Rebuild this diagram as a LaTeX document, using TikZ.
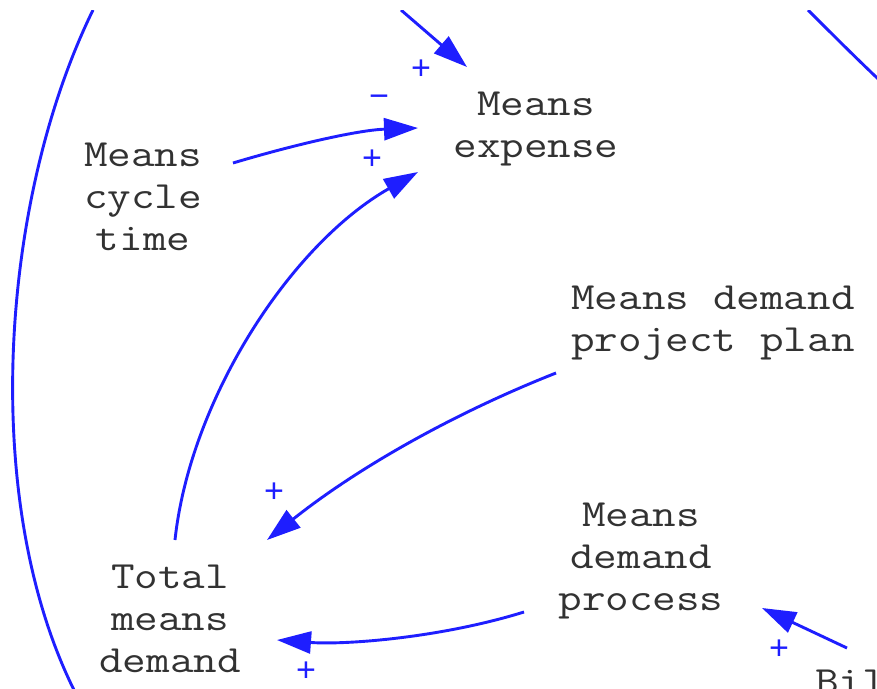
\documentclass[tikz,border=0pt]{standalone}
\usepackage{fontspec}
\newfontfamily\labelfont{Latin Modern Mono}[FakeStretch=1.19]
\newfontfamily\signfont{Liberation Mono}
\usetikzlibrary{arrows.meta}
\definecolor{linkblue}{RGB}{30,30,255}
\definecolor{vartext}{RGB}{50,50,50}
% one full character cell between words
\newcommand{\cell}{\hspace{24pt}}
\begin{document}
\begin{tikzpicture}[x=1pt,y=-1pt,
  var/.style={font=\labelfont\fontsize{38.5}{42}\selectfont, text=vartext,
              align=center, text width=320pt, anchor=base, inner sep=0pt},
  sign/.style={font=\signfont\fontsize{34}{34}\selectfont, text=linkblue, inner sep=0pt},
  link/.style={draw=linkblue, line width=2.9pt, -{Triangle[length=34pt,width=22pt]}},
  plainlink/.style={draw=linkblue, line width=2.9pt}]
\useasboundingbox[fill=white] (0,0) rectangle (877,688);

% variables
\node[var] (exp)  at (536,115) {Means\\expense};
\node[var] (cyc)  at (143,166) {Means\\cycle\\time};
\node[var] (plan) at (713,309) {Means\cell demand\\project\cell plan};
\node[var] (proc) at (641,526) {Means\\demand\\process};
\node[var] (tot)  at (170,588) {Total\\means\\demand};
\node[font=\labelfont\fontsize{38.5}{42}\selectfont, text=vartext, inner sep=0pt,
      anchor=base west] (bil) at (815,693) {Bil};

% connector end points
\coordinate (top-in)   at (401,10);
\coordinate (exp-n)    at (467,67);
\coordinate (cyc-e)    at (233,163);
\coordinate (exp-w)    at (418,128);
\coordinate (exp-sw)   at (418,172);
\coordinate (tot-n)    at (175,540);
\coordinate (plan-sw)  at (556,373);
\coordinate (tot-ne)   at (267,540);
\coordinate (proc-w)   at (524,612);
\coordinate (tot-e)    at (277,640);
\coordinate (bil-nw)   at (847,648);
\coordinate (proc-se)  at (762,608);

\begin{scope}
\clip (0,10) rectangle (877,700);
% long loops leaving the frame
\path[plainlink] (93,10) .. controls (0,200) and (-20,500) .. (74,690);
\path[plainlink] (808,10) .. controls (840,42) and (870,72) .. (905,104);
% causal links
\path[link] (top-in) -- (exp-n);
\path[link] (cyc-e) .. controls (300,143) and (360,130) .. (exp-w);
\path[link] (tot-n) .. controls (190,400) and (290,245) .. (exp-sw);
\path[link] (plan-sw) .. controls (452,414) and (356,469) .. (tot-ne);
\path[link] (proc-w) .. controls (440,638) and (345,645) .. (tot-e);
\path[link] (bil-nw) -- (proc-se);
\end{scope}

% polarities
\node[sign] (s1) at (421,70)  {+};
\node[sign] (s2) at (379,101) {−};
\node[sign] (s3) at (372,160) {+};
\node[sign] (s4) at (274,493) {+};
\node[sign] (s5) at (306,672) {+};
\node[sign] (s6) at (779,650) {+};
\end{tikzpicture}
\end{document}
